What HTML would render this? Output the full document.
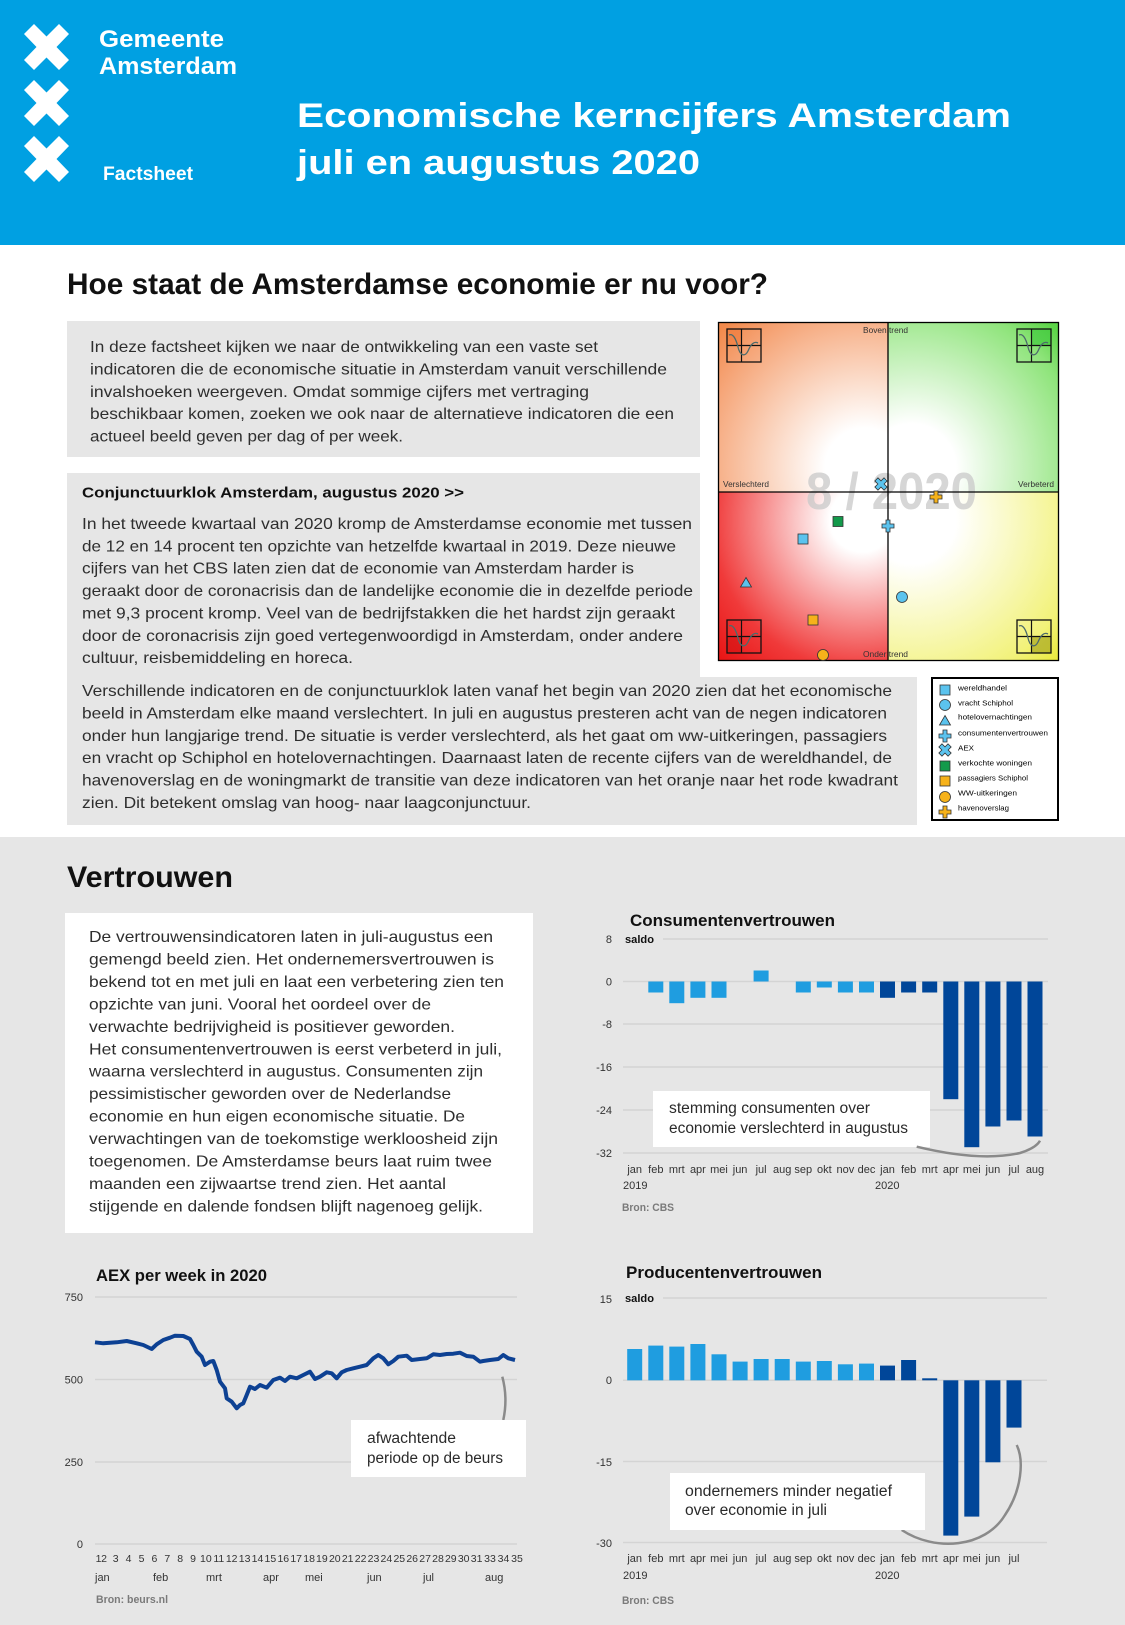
<!DOCTYPE html>
<html><head><meta charset="utf-8"><style>
html,body{margin:0;padding:0;background:#fff}
svg{display:block}
text{font-family:"Liberation Sans",sans-serif}
.t{font-size:16px;fill:#2e2e2e}
.ax{font-size:11px;fill:#333}
.wk{font-size:10.5px;fill:#333}
.bron{font-size:11px;fill:#7a7a7a;font-weight:bold}
.ct{font-size:17px;font-weight:bold;fill:#111}
.an{font-size:15.5px;fill:#2a2a2a}
.lg{font-size:7.5px;fill:#000}
.cl{font-size:8px;fill:#333}
</style></head><body>
<svg width="1125" height="1625" viewBox="0 0 1125 1625" xmlns="http://www.w3.org/2000/svg">
<defs>
<radialGradient id="gTL" gradientUnits="userSpaceOnUse" cx="865" cy="468" r="200"><stop offset="0" stop-color="#fff"/><stop offset="0.2" stop-color="#fff"/><stop offset="0.85" stop-color="#f5a070"/><stop offset="1" stop-color="#f28a4c"/></radialGradient>
<radialGradient id="gTR" gradientUnits="userSpaceOnUse" cx="912" cy="468" r="200"><stop offset="0" stop-color="#fff"/><stop offset="0.22" stop-color="#fff"/><stop offset="0.85" stop-color="#8ee47a"/><stop offset="1" stop-color="#5cd448"/></radialGradient>
<radialGradient id="gBL" gradientUnits="userSpaceOnUse" cx="862" cy="520" r="200"><stop offset="0" stop-color="#fff"/><stop offset="0.16" stop-color="#fff"/><stop offset="0.75" stop-color="#f03a3a"/><stop offset="1" stop-color="#e81414"/></radialGradient>
<radialGradient id="gBR" gradientUnits="userSpaceOnUse" cx="912" cy="520" r="200"><stop offset="0" stop-color="#fff"/><stop offset="0.22" stop-color="#fff"/><stop offset="0.85" stop-color="#f2f27a"/><stop offset="1" stop-color="#eaea40"/></radialGradient>
<rect id="mSq" x="-5" y="-5" width="10" height="10" stroke="#333" stroke-width="0.8"/>
<circle id="mCi" cx="0" cy="0" r="5.5" stroke="#333" stroke-width="0.8"/>
<polygon id="mTr" points="0,-5.5 5.5,4 -5.5,4" stroke="#333" stroke-width="0.8"/>
<polygon id="mPl" points="-2,-6 2,-6 2,-2 6,-2 6,2 2,2 2,6 -2,6 -2,2 -6,2 -6,-2 -2,-2" stroke="#333" stroke-width="0.8"/>
<polygon id="mX" transform="rotate(45)" points="-2.2,-6.5 2.2,-6.5 2.2,-2.2 6.5,-2.2 6.5,2.2 2.2,2.2 2.2,6.5 -2.2,6.5 -2.2,2.2 -6.5,2.2 -6.5,-2.2 -2.2,-2.2" stroke="#333" stroke-width="0.8"/>
<polygon id="xx" points="0,10 10,0 22.5,12.5 35,0 45,10 32.5,23 45,36 35,46 22.5,33.5 10,46 0,36 12.5,23" fill="#fff"/>
<g id="icon">
<rect x="0" y="0" width="34" height="33" fill="none" stroke="#111" stroke-width="1.3"/>
<line x1="14.5" y1="0" x2="14.5" y2="33" stroke="#111" stroke-width="1.2"/>
<line x1="0" y1="16.5" x2="34" y2="16.5" stroke="#111" stroke-width="1.2"/>
<path d="M2 6 C6 4 9 10 11 18 C13 27 18 28 21 22 C24 15 27 12 31 14" fill="none" stroke="#4d6b6b" stroke-width="1.3"/>
</g>
</defs>

<!-- header -->
<rect x="0" y="0" width="1125" height="245" fill="#00a0e2"/>
<use href="#xx" x="24" y="24"/>
<use href="#xx" x="24" y="80"/>
<use href="#xx" x="24" y="136"/>
<text x="99" y="47" font-size="24" font-weight="bold" fill="#fff" textLength="125" lengthAdjust="spacingAndGlyphs">Gemeente</text>
<text x="99" y="74" font-size="24" font-weight="bold" fill="#fff" textLength="138" lengthAdjust="spacingAndGlyphs">Amsterdam</text>
<text x="103" y="180" font-size="19" font-weight="bold" fill="#fff" textLength="90" lengthAdjust="spacingAndGlyphs">Factsheet</text>
<text x="297" y="127" font-size="34" font-weight="bold" fill="#fff" textLength="714" lengthAdjust="spacingAndGlyphs">Economische kerncijfers Amsterdam</text>
<text x="297" y="174" font-size="34" font-weight="bold" fill="#fff" textLength="403" lengthAdjust="spacingAndGlyphs">juli en augustus 2020</text>

<!-- section 1 -->
<text x="67" y="294" font-size="29.5" font-weight="bold" fill="#111" textLength="701" lengthAdjust="spacingAndGlyphs">Hoe staat de Amsterdamse economie er nu voor?</text>
<rect x="67" y="321" width="633" height="136" fill="#e6e6e6"/>
<text class="t" x="90" y="352" textLength="508" lengthAdjust="spacingAndGlyphs">In deze factsheet kijken we naar de ontwikkeling van een vaste set</text>
<text class="t" x="90" y="374.5" textLength="577" lengthAdjust="spacingAndGlyphs">indicatoren die de economische situatie in Amsterdam vanuit verschillende</text>
<text class="t" x="90" y="397" textLength="499" lengthAdjust="spacingAndGlyphs">invalshoeken weergeven. Omdat sommige cijfers met vertraging</text>
<text class="t" x="90" y="419" textLength="584" lengthAdjust="spacingAndGlyphs">beschikbaar komen, zoeken we ook naar de alternatieve indicatoren die een</text>
<text class="t" x="90" y="441.5" textLength="313" lengthAdjust="spacingAndGlyphs">actueel beeld geven per dag of per week.</text>

<path d="M67 473 H700 V677 H917 V825 H67 Z" fill="#e6e6e6"/>
<text x="82" y="497.5" font-size="15" font-weight="bold" fill="#111" textLength="382" lengthAdjust="spacingAndGlyphs">Conjunctuurklok Amsterdam, augustus 2020 &gt;&gt;</text>
<text class="t" x="82" y="529" textLength="610" lengthAdjust="spacingAndGlyphs">In het tweede kwartaal van 2020 kromp de Amsterdamse economie met tussen</text>
<text class="t" x="82" y="551.5" textLength="594" lengthAdjust="spacingAndGlyphs">de 12 en 14 procent ten opzichte van hetzelfde kwartaal in 2019. Deze nieuwe</text>
<text class="t" x="82" y="573.5" textLength="552" lengthAdjust="spacingAndGlyphs">cijfers van het CBS laten zien dat de economie van Amsterdam harder is</text>
<text class="t" x="82" y="596" textLength="611" lengthAdjust="spacingAndGlyphs">geraakt door de coronacrisis dan de landelijke economie die in dezelfde periode</text>
<text class="t" x="82" y="618.5" textLength="593" lengthAdjust="spacingAndGlyphs">met 9,3 procent kromp. Veel van de bedrijfstakken die het hardst zijn geraakt</text>
<text class="t" x="82" y="641" textLength="601" lengthAdjust="spacingAndGlyphs">door de coronacrisis zijn goed vertegenwoordigd in Amsterdam, onder andere</text>
<text class="t" x="82" y="663" textLength="271" lengthAdjust="spacingAndGlyphs">cultuur, reisbemiddeling en horeca.</text>
<text class="t" x="82" y="696" textLength="810" lengthAdjust="spacingAndGlyphs">Verschillende indicatoren en de conjunctuurklok laten vanaf het begin van 2020 zien dat het economische</text>
<text class="t" x="82" y="718.5" textLength="805" lengthAdjust="spacingAndGlyphs">beeld in Amsterdam elke maand verslechtert. In juli en augustus presteren acht van de negen indicatoren</text>
<text class="t" x="82" y="741" textLength="805" lengthAdjust="spacingAndGlyphs">onder hun langjarige trend. De situatie is verder verslechterd, als het gaat om ww-uitkeringen, passagiers</text>
<text class="t" x="82" y="763" textLength="810" lengthAdjust="spacingAndGlyphs">en vracht op Schiphol en hotelovernachtingen. Daarnaast laten de recente cijfers van de wereldhandel, de</text>
<text class="t" x="82" y="785.5" textLength="816" lengthAdjust="spacingAndGlyphs">havenoverslag en de woningmarkt de transitie van deze indicatoren van het oranje naar het rode kwadrant</text>
<text class="t" x="82" y="808" textLength="449" lengthAdjust="spacingAndGlyphs">zien. Dit betekent omslag van hoog- naar laagconjunctuur.</text>

<!-- conjunctuurklok -->
<rect x="718" y="322" width="170" height="170" fill="url(#gTL)"/>
<rect x="888" y="322" width="171" height="170" fill="url(#gTR)"/>
<rect x="718" y="492" width="170" height="169" fill="url(#gBL)"/>
<rect x="888" y="492" width="171" height="169" fill="url(#gBR)"/>
<text x="806" y="509" font-size="52" font-weight="bold" fill="#c8c8c8" fill-opacity="0.75" textLength="171" lengthAdjust="spacingAndGlyphs">8 / 2020</text>
<rect x="727" y="329" width="14.5" height="16.5" fill="#f07a3a" fill-opacity="0.6"/>
<rect x="1032" y="329" width="19.5" height="16.5" fill="#3cc83c" fill-opacity="0.6"/>
<rect x="727" y="637" width="14.5" height="16.5" fill="#d01010" fill-opacity="0.5"/>
<rect x="1032" y="637" width="19.5" height="16.5" fill="#a8a820" fill-opacity="0.7"/>
<use href="#icon" x="727" y="329"/>
<use href="#icon" x="1017" y="329"/>
<use href="#icon" x="727" y="620"/>
<use href="#icon" x="1017" y="620"/>
<line x1="888" y1="322" x2="888" y2="661" stroke="#000" stroke-width="1.3"/>
<line x1="718" y1="492" x2="1059" y2="492" stroke="#000" stroke-width="1.3"/>
<rect x="718.5" y="322.5" width="340" height="338" fill="none" stroke="#000" stroke-width="1.3"/>
<text class="cl" x="863" y="333" textLength="45" lengthAdjust="spacingAndGlyphs">Boven trend</text>
<text class="cl" x="863" y="657" textLength="45" lengthAdjust="spacingAndGlyphs">Onder trend</text>
<text class="cl" x="723" y="487" textLength="46" lengthAdjust="spacingAndGlyphs">Verslechterd</text>
<text class="cl" x="1018" y="487" textLength="36" lengthAdjust="spacingAndGlyphs">Verbeterd</text>
<use href="#mX" x="881" y="484" fill="#5bc3ee"/>
<use href="#mPl" x="936" y="497" fill="#f6b21a"/>
<use href="#mSq" x="838" y="521.5" fill="#139a4b"/>
<use href="#mPl" x="888" y="526" fill="#5bc3ee"/>
<use href="#mSq" x="803" y="539" fill="#5bc3ee"/>
<use href="#mTr" x="746" y="583" fill="#5bc3ee"/>
<use href="#mCi" x="902" y="597" fill="#5bc3ee"/>
<use href="#mSq" x="813" y="620" fill="#f6b21a"/>
<use href="#mCi" x="823" y="655" fill="#f6b21a"/>

<!-- legend -->
<rect x="932" y="678" width="126" height="142" fill="#fff" stroke="#000" stroke-width="2"/>
<use href="#mSq" x="945" y="690" fill="#5bc3ee"/>
<use href="#mCi" x="945" y="705" fill="#5bc3ee"/>
<use href="#mTr" x="945" y="721" fill="#5bc3ee"/>
<use href="#mPl" x="945" y="736" fill="#5bc3ee"/>
<use href="#mX" x="945" y="750" fill="#5bc3ee"/>
<use href="#mSq" x="945" y="766" fill="#139a4b"/>
<use href="#mSq" x="945" y="781" fill="#f6b21a"/>
<use href="#mCi" x="945" y="797" fill="#f6b21a"/>
<use href="#mPl" x="945" y="812" fill="#f6b21a"/>
<text class="lg" x="958" y="690.5" textLength="49" lengthAdjust="spacingAndGlyphs">wereldhandel</text>
<text class="lg" x="958" y="705.5" textLength="55" lengthAdjust="spacingAndGlyphs">vracht Schiphol</text>
<text class="lg" x="958" y="719.5" textLength="74" lengthAdjust="spacingAndGlyphs">hotelovernachtingen</text>
<text class="lg" x="958" y="735.5" textLength="90" lengthAdjust="spacingAndGlyphs">consumentenvertrouwen</text>
<text class="lg" x="958" y="750.5" textLength="16" lengthAdjust="spacingAndGlyphs">AEX</text>
<text class="lg" x="958" y="765.5" textLength="74" lengthAdjust="spacingAndGlyphs">verkochte woningen</text>
<text class="lg" x="958" y="780.5" textLength="70" lengthAdjust="spacingAndGlyphs">passagiers Schiphol</text>
<text class="lg" x="958" y="795.5" textLength="59" lengthAdjust="spacingAndGlyphs">WW-uitkeringen</text>
<text class="lg" x="958" y="810.5" textLength="51" lengthAdjust="spacingAndGlyphs">havenoverslag</text>

<!-- section 2 -->
<rect x="0" y="837" width="1125" height="788" fill="#e6e6e6"/>
<text x="67" y="887" font-size="29.5" font-weight="bold" fill="#111" textLength="166" lengthAdjust="spacingAndGlyphs">Vertrouwen</text>
<rect x="65" y="913" width="468" height="320" fill="#fff"/>
<text class="t" x="89" y="942" textLength="404" lengthAdjust="spacingAndGlyphs">De vertrouwensindicatoren laten in juli-augustus een</text>
<text class="t" x="89" y="964.5" textLength="405" lengthAdjust="spacingAndGlyphs">gemengd beeld zien. Het ondernemersvertrouwen is</text>
<text class="t" x="89" y="987" textLength="415" lengthAdjust="spacingAndGlyphs">bekend tot en met juli en laat een verbetering zien ten</text>
<text class="t" x="89" y="1009.4" textLength="342" lengthAdjust="spacingAndGlyphs">opzichte van juni. Vooral het oordeel over de</text>
<text class="t" x="89" y="1031.8" textLength="366" lengthAdjust="spacingAndGlyphs">verwachte bedrijvigheid is positiever geworden.</text>
<text class="t" x="89" y="1054.3" textLength="413" lengthAdjust="spacingAndGlyphs">Het consumentenvertrouwen is eerst verbeterd in juli,</text>
<text class="t" x="89" y="1076.7" textLength="394" lengthAdjust="spacingAndGlyphs">waarna verslechterd in augustus. Consumenten zijn</text>
<text class="t" x="89" y="1099.2" textLength="362" lengthAdjust="spacingAndGlyphs">pessimistischer geworden over de Nederlandse</text>
<text class="t" x="89" y="1121.6" textLength="376" lengthAdjust="spacingAndGlyphs">economie en hun eigen economische situatie. De</text>
<text class="t" x="89" y="1144" textLength="409" lengthAdjust="spacingAndGlyphs">verwachtingen van de toekomstige werkloosheid zijn</text>
<text class="t" x="89" y="1166.5" textLength="403" lengthAdjust="spacingAndGlyphs">toegenomen. De Amsterdamse beurs laat ruim twee</text>
<text class="t" x="89" y="1189" textLength="357" lengthAdjust="spacingAndGlyphs">maanden een zijwaartse trend zien. Het aantal</text>
<text class="t" x="89" y="1211.4" textLength="394" lengthAdjust="spacingAndGlyphs">stijgende en dalende fondsen blijft nagenoeg gelijk.</text>

<!-- Consumentenvertrouwen -->
<text class="ct" x="630" y="926" textLength="205" lengthAdjust="spacingAndGlyphs">Consumentenvertrouwen</text>
<g stroke="#d4d4d4" stroke-width="1.5">
<line x1="663" y1="939" x2="1048" y2="939"/>
<line x1="623" y1="981.5" x2="1048" y2="981.5"/>
<line x1="623" y1="1024" x2="1048" y2="1024"/>
<line x1="623" y1="1067" x2="1048" y2="1067"/>
<line x1="623" y1="1110" x2="1048" y2="1110"/>
<line x1="623" y1="1153" x2="1048" y2="1153"/>
</g>
<text x="625" y="943" font-size="11" font-weight="bold" fill="#111" textLength="29" lengthAdjust="spacingAndGlyphs">saldo</text>
<g class="ax" text-anchor="end">
<text class="ax" x="612" y="943">8</text>
<text class="ax" x="612" y="985.5">0</text>
<text class="ax" x="612" y="1028">-8</text>
<text class="ax" x="612" y="1071">-16</text>
<text class="ax" x="612" y="1114">-24</text>
<text class="ax" x="612" y="1157">-32</text>
</g>
<g fill="#1f9de0">
<rect x="648.3" y="981.5" width="15" height="11"/>
<rect x="669.3" y="981.5" width="15" height="21.7"/>
<rect x="690.4" y="981.5" width="15" height="16.3"/>
<rect x="711.5" y="981.5" width="15" height="16.3"/>
<rect x="753.6" y="970.5" width="15" height="11"/>
<rect x="795.8" y="981.5" width="15" height="11"/>
<rect x="816.8" y="981.5" width="15" height="6"/>
<rect x="837.9" y="981.5" width="15" height="11"/>
<rect x="859.0" y="981.5" width="15" height="11"/>
</g>
<g fill="#004699">
<rect x="880.0" y="981.5" width="15" height="16.3"/>
<rect x="901.1" y="981.5" width="15" height="11"/>
<rect x="922.2" y="981.5" width="15" height="11"/>
<rect x="943.3" y="981.5" width="15" height="117.7"/>
<rect x="964.3" y="981.5" width="15" height="165.7"/>
<rect x="985.4" y="981.5" width="15" height="145"/>
<rect x="1006.5" y="981.5" width="15" height="139"/>
<rect x="1027.5" y="981.5" width="15" height="155"/>
</g>
<rect x="653" y="1091" width="277" height="56" fill="#fff"/>
<text class="an" x="669" y="1113" textLength="201" lengthAdjust="spacingAndGlyphs">stemming consumenten over</text>
<text class="an" x="669" y="1133" textLength="239" lengthAdjust="spacingAndGlyphs">economie verslechterd in augustus</text>
<path d="M916.7 1146.7 Q980 1162 1020 1153 Q1036 1148 1040 1140.7" fill="none" stroke="#8a8a8a" stroke-width="2.5"/>
<g class="ax" text-anchor="middle">
<text class="ax" x="634.7" y="1173">jan</text>
<text class="ax" x="655.8" y="1173">feb</text>
<text class="ax" x="676.8" y="1173">mrt</text>
<text class="ax" x="697.9" y="1173">apr</text>
<text class="ax" x="719.0" y="1173">mei</text>
<text class="ax" x="740.1" y="1173">jun</text>
<text class="ax" x="761.1" y="1173">jul</text>
<text class="ax" x="782.2" y="1173">aug</text>
<text class="ax" x="803.3" y="1173">sep</text>
<text class="ax" x="824.3" y="1173">okt</text>
<text class="ax" x="845.4" y="1173">nov</text>
<text class="ax" x="866.5" y="1173">dec</text>
<text class="ax" x="887.5" y="1173">jan</text>
<text class="ax" x="908.6" y="1173">feb</text>
<text class="ax" x="929.7" y="1173">mrt</text>
<text class="ax" x="950.8" y="1173">apr</text>
<text class="ax" x="971.8" y="1173">mei</text>
<text class="ax" x="992.9" y="1173">jun</text>
<text class="ax" x="1014.0" y="1173">jul</text>
<text class="ax" x="1035.0" y="1173">aug</text>
</g>
<text class="ax" x="623" y="1189">2019</text>
<text class="ax" x="875" y="1189">2020</text>
<text class="bron" x="622" y="1211" textLength="52" lengthAdjust="spacingAndGlyphs">Bron: CBS</text>

<!-- AEX -->
<text class="ct" x="96" y="1281" textLength="171" lengthAdjust="spacingAndGlyphs">AEX per week in 2020</text>
<g stroke="#d4d4d4" stroke-width="1.5">
<line x1="95" y1="1297" x2="517" y2="1297"/>
<line x1="95" y1="1379.5" x2="517" y2="1379.5"/>
<line x1="95" y1="1462" x2="517" y2="1462"/>
<line x1="95" y1="1544" x2="517" y2="1544"/>
</g>
<g text-anchor="end">
<text class="ax" x="83" y="1301">750</text>
<text class="ax" x="83" y="1383.5">500</text>
<text class="ax" x="83" y="1466">250</text>
<text class="ax" x="83" y="1548">0</text>
</g>
<polyline fill="none" stroke="#0d4193" stroke-width="4" stroke-linejoin="round" points="95,1342.3 103.3,1343.3 116.7,1342.3 126.7,1341 136.7,1343.3 143.3,1345 151.7,1349 156.7,1344.3 163.3,1340 170,1337.7 175,1335.7 183.3,1336 190,1339 193.3,1345 196.7,1351.7 201.7,1356.7 205,1365 210,1361.7 213.3,1361 216.7,1370 220,1381.7 225,1388.3 226.7,1398.3 231.7,1401.7 236.7,1408.3 240,1405 243.3,1403.3 246.7,1395 250,1386.7 255,1389 260,1385 266.7,1387.7 273.3,1380 280,1377.7 285,1381 290,1376.7 296.7,1378.3 303.3,1375 310,1371.7 315,1379 320,1376.7 326.7,1372.3 331.7,1373.3 336.7,1378.3 341.7,1372.3 346.7,1370 353.3,1368.3 360,1366.7 366.7,1365 373.3,1358.3 378.3,1355 383.3,1358.3 388.3,1364.3 393.3,1361 398.3,1356.7 406.7,1355.7 411.7,1360 420,1359 426.7,1358.3 433.3,1354.3 440,1355 446.7,1354 453.3,1353.7 460,1352.7 466.7,1356 473.3,1356.7 480,1361.7 483.3,1361 490,1360 498.3,1359 503.3,1355 508.3,1358.3 515,1360"/>
<path d="M502.3 1376.7 Q508 1398 503.3 1420" fill="none" stroke="#8a8a8a" stroke-width="2.5"/>
<rect x="351" y="1420" width="175" height="57" fill="#fff"/>
<text class="an" x="367" y="1443" textLength="89" lengthAdjust="spacingAndGlyphs">afwachtende</text>
<text class="an" x="367" y="1463" textLength="136" lengthAdjust="spacingAndGlyphs">periode op de beurs</text>
<g text-anchor="middle">
<text class="wk" x="98.5" y="1562">1</text>
<text class="wk" x="104" y="1562">2</text>
<text class="wk" x="115.7" y="1562">3</text>
<text class="wk" x="128.6" y="1562">4</text>
<text class="wk" x="141.5" y="1562">5</text>
<text class="wk" x="154.4" y="1562">6</text>
<text class="wk" x="167.3" y="1562">7</text>
<text class="wk" x="180.2" y="1562">8</text>
<text class="wk" x="193.0" y="1562">9</text>
<text class="wk" x="205.9" y="1562">10</text>
<text class="wk" x="218.8" y="1562">11</text>
<text class="wk" x="231.7" y="1562">12</text>
<text class="wk" x="244.6" y="1562">13</text>
<text class="wk" x="257.5" y="1562">14</text>
<text class="wk" x="270.4" y="1562">15</text>
<text class="wk" x="283.3" y="1562">16</text>
<text class="wk" x="296.2" y="1562">17</text>
<text class="wk" x="309.1" y="1562">18</text>
<text class="wk" x="321.9" y="1562">19</text>
<text class="wk" x="334.8" y="1562">20</text>
<text class="wk" x="347.7" y="1562">21</text>
<text class="wk" x="360.6" y="1562">22</text>
<text class="wk" x="373.5" y="1562">23</text>
<text class="wk" x="386.4" y="1562">24</text>
<text class="wk" x="399.3" y="1562">25</text>
<text class="wk" x="412.2" y="1562">26</text>
<text class="wk" x="425.1" y="1562">27</text>
<text class="wk" x="438.0" y="1562">28</text>
<text class="wk" x="450.8" y="1562">29</text>
<text class="wk" x="463.7" y="1562">30</text>
<text class="wk" x="476.6" y="1562">31</text>
<text class="wk" x="490" y="1562">33</text>
<text class="wk" x="503.5" y="1562">34</text>
<text class="wk" x="517" y="1562">35</text>
</g>
<text class="ax" x="95" y="1581">jan</text>
<text class="ax" x="153" y="1581">feb</text>
<text class="ax" x="206" y="1581">mrt</text>
<text class="ax" x="263" y="1581">apr</text>
<text class="ax" x="305" y="1581">mei</text>
<text class="ax" x="367" y="1581">jun</text>
<text class="ax" x="423" y="1581">jul</text>
<text class="ax" x="485" y="1581">aug</text>
<text class="bron" x="96" y="1603" textLength="72" lengthAdjust="spacingAndGlyphs">Bron: beurs.nl</text>

<!-- Producentenvertrouwen -->
<text class="ct" x="626" y="1278" textLength="196" lengthAdjust="spacingAndGlyphs">Producentenvertrouwen</text>
<g stroke="#d4d4d4" stroke-width="1.5">
<line x1="663" y1="1298" x2="1047" y2="1298"/>
<line x1="623" y1="1380.3" x2="1047" y2="1380.3"/>
<line x1="623" y1="1461.5" x2="1047" y2="1461.5"/>
<line x1="623" y1="1542.5" x2="1047" y2="1542.5"/>
</g>
<text x="625" y="1302" font-size="11" font-weight="bold" fill="#111" textLength="29" lengthAdjust="spacingAndGlyphs">saldo</text>
<g text-anchor="end">
<text class="ax" x="612" y="1303">15</text>
<text class="ax" x="612" y="1384">0</text>
<text class="ax" x="612" y="1466">-15</text>
<text class="ax" x="612" y="1547">-30</text>
</g>
<g fill="#1f9de0">
<rect x="627.2" y="1349" width="15" height="31.3"/>
<rect x="648.3" y="1345.6" width="15" height="34.7"/>
<rect x="669.3" y="1346.6" width="15" height="33.7"/>
<rect x="690.4" y="1344" width="15" height="36.3"/>
<rect x="711.5" y="1354.3" width="15" height="26"/>
<rect x="732.6" y="1361.6" width="15" height="18.7"/>
<rect x="753.6" y="1359" width="15" height="21.3"/>
<rect x="774.7" y="1359" width="15" height="21.3"/>
<rect x="795.8" y="1361.6" width="15" height="18.7"/>
<rect x="816.8" y="1361" width="15" height="19.3"/>
<rect x="837.9" y="1364.3" width="15" height="16"/>
<rect x="859.0" y="1363.6" width="15" height="16.7"/>
</g>
<g fill="#004699">
<rect x="880.0" y="1365.6" width="15" height="14.7"/>
<rect x="901.1" y="1360" width="15" height="20.3"/>
<rect x="922.2" y="1378.3" width="15" height="2"/>
<rect x="943.3" y="1380.3" width="15" height="155.3"/>
<rect x="964.3" y="1380.3" width="15" height="136.3"/>
<rect x="985.4" y="1380.3" width="15" height="82"/>
<rect x="1006.5" y="1380.3" width="15" height="47.3"/>
</g>
<path d="M901.7 1530 C935 1552 985 1548 1005 1515 C1022 1490 1024 1460 1016.7 1445" fill="none" stroke="#8a8a8a" stroke-width="2.5"/>
<rect x="670" y="1473" width="255" height="57" fill="#fff"/>
<text class="an" x="685" y="1496" textLength="207" lengthAdjust="spacingAndGlyphs">ondernemers minder negatief</text>
<text class="an" x="685" y="1515" textLength="142" lengthAdjust="spacingAndGlyphs">over economie in juli</text>
<g text-anchor="middle">
<text class="ax" x="634.7" y="1562">jan</text>
<text class="ax" x="655.8" y="1562">feb</text>
<text class="ax" x="676.8" y="1562">mrt</text>
<text class="ax" x="697.9" y="1562">apr</text>
<text class="ax" x="719.0" y="1562">mei</text>
<text class="ax" x="740.1" y="1562">jun</text>
<text class="ax" x="761.1" y="1562">jul</text>
<text class="ax" x="782.2" y="1562">aug</text>
<text class="ax" x="803.3" y="1562">sep</text>
<text class="ax" x="824.3" y="1562">okt</text>
<text class="ax" x="845.4" y="1562">nov</text>
<text class="ax" x="866.5" y="1562">dec</text>
<text class="ax" x="887.5" y="1562">jan</text>
<text class="ax" x="908.6" y="1562">feb</text>
<text class="ax" x="929.7" y="1562">mrt</text>
<text class="ax" x="950.8" y="1562">apr</text>
<text class="ax" x="971.8" y="1562">mei</text>
<text class="ax" x="992.9" y="1562">jun</text>
<text class="ax" x="1014.0" y="1562">jul</text>
</g>
<text class="ax" x="623" y="1579">2019</text>
<text class="ax" x="875" y="1579">2020</text>
<text class="bron" x="622" y="1604" textLength="52" lengthAdjust="spacingAndGlyphs">Bron: CBS</text>
</svg>
</body></html>
